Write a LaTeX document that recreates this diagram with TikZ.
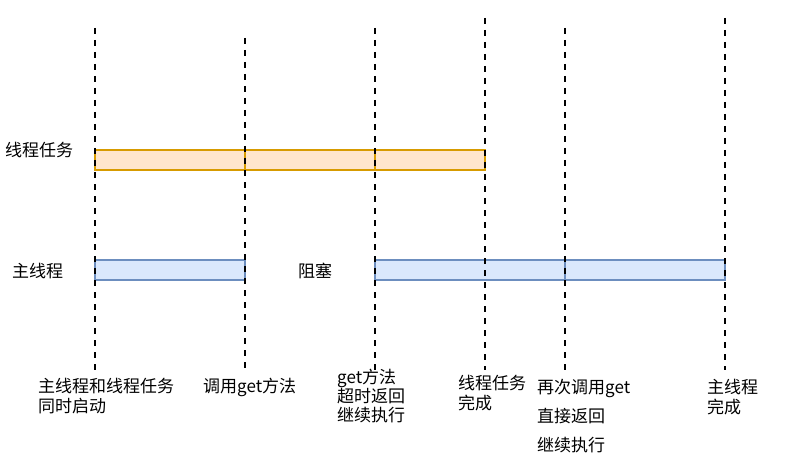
\documentclass[tikz,border=0pt]{standalone}
\usepackage{fontspec}
\setmainfont{Noto Sans CJK SC}
\usetikzlibrary{positioning}
\definecolor{taskfill}{HTML}{FFE6CC}
\definecolor{taskline}{HTML}{D79B00}
\definecolor{mainfill}{HTML}{DAE8FC}
\definecolor{mainline}{HTML}{6C8EBF}
\tikzset{
	timeline/.style={x=1pt, y=-1pt, font=\fontsize{17}{20}\selectfont},
	tick line/.style={draw=black, line width=2pt, dash pattern=on 6pt off 6pt},
	seg/.style={draw, line width=1.5pt, minimum height=20pt, inner sep=0pt,
		outer sep=0pt, anchor=west},
	task seg/.style={seg, fill=taskfill, draw=taskline},
	main seg/.style={seg, fill=mainfill, draw=mainline},
	lbl/.style={inner sep=0pt, align=left, anchor=base west}
}

\begin{document}
\begin{tikzpicture}[timeline]
	\useasboundingbox (0,0) rectangle (786,465);
	% bars
	\foreach \n/\a/\w in {1/95/150, 2/245/130, 3/375/110}
		\node[task seg, minimum width=\w pt] (task\n) at (\a,160) {};
	\foreach \n/\a/\w in {1/95/150, 2/375/190, 3/565/160}
		\node[main seg, minimum width=\w pt] (main\n) at (\a,270) {};
	% time marks
	\foreach \n/\x/\t in {1/95/28, 2/245/38, 3/375/28, 4/485/18, 5/565/28, 6/725/18} {
		\coordinate (t\n top) at (\x,\t);
		\coordinate (t\n bot) at (\x,370);
		\draw[tick line] (t\n top) -- (t\n bot);
	}
	% lane names
	\node[lbl] (taskname) at (5,157) {线程任务};
	\node[lbl] (mainname) at (12,277) {主线程};
	\node[lbl] (blocked) at (298,277) {阻塞};
	% events (base = last line)
	\node[lbl] (ev1) at (38,412) {主线程和线程任务\\同时启动};
	\node[lbl] (ev2) at (203,392) {调用get方法};
	\node[lbl, font=\fontsize{17}{19}\selectfont] (ev3) at (337,421) {get方法\\超时返回\\继续执行};
	\node[lbl] (ev4) at (458,409) {线程任务\\完成};
	\node[lbl, font=\fontsize{17}{29}\selectfont] (ev5) at (537,451) {再次调用get\\直接返回\\继续执行};
	\node[lbl] (ev6) at (707,413) {主线程\\完成};
\end{tikzpicture}
\end{document}
